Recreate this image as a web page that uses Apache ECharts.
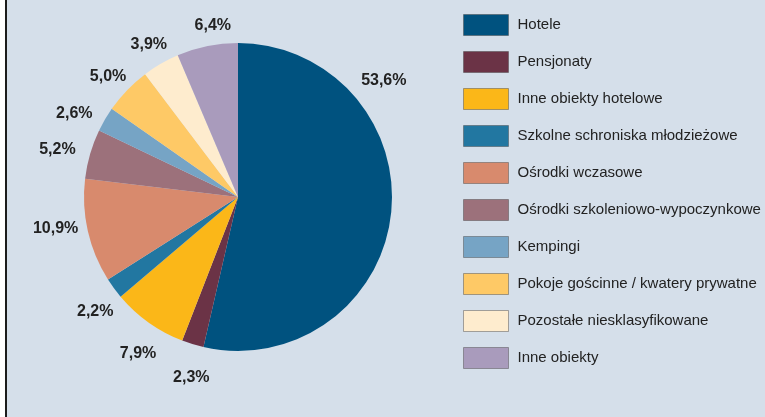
<!DOCTYPE html>
<html>
<head>
<meta charset="utf-8">
<script src="https://cdn.jsdelivr.net/npm/echarts@6/dist/echarts.min.js"></script>
<style>
  html, body { margin: 0; padding: 0; background: #ffffff; }
  #frame { position: absolute; left: 5px; top: 0; width: 2px; height: 417px; background: #1c1c1c; }
  #chart { position: absolute; left: 7px; top: 0; width: 758px; height: 417px; background: #d5dfea; }
</style>
</head>
<body>
<div id="frame"></div>
<div id="chart"></div>
<script>
// kategorie obiektów noclegowych
const categories = [
  'Hotele',
  'Pensjonaty',
  'Inne obiekty hotelowe',
  'Szkolne schroniska młodzieżowe',
  'Ośrodki wczasowe',
  'Ośrodki szkoleniowo-wypoczynkowe',
  'Kempingi',
  'Pokoje gościnne / kwatery prywatne',
  'Pozostałe niesklasyfikowane',
  'Inne obiekty'
];
// udział w %
const shares = [53.6, 2.3, 7.9, 2.2, 10.9, 5.2, 2.6, 5.0, 3.9, 6.4];
const colors = [
  '#00527f', '#6b3346', '#fbb718', '#2277a1', '#d88a6d',
  '#9c717b', '#76a4c5', '#fec966', '#feecce', '#a99bbc'
];

const pieData = categories.map((name, i) => ({
  name: name,
  value: shares[i],
  itemStyle: { color: colors[i] }
}));

// drobne przesunięcia etykiet (jak w oryginale z Excela)
const nudge = [[-39, -137], [8, 3], [8, 5], [7, 4], [-1, -10], [-2, 4], [-3, 10], [4, 9], [4, 9], [12, 11]];

const chart = echarts.init(document.getElementById('chart'));

const option = {
  animation: false,
  legend: {
    orient: 'vertical',
    left: 451,
    top: 9,
    itemWidth: 45,
    itemHeight: 21,
    itemGap: 15,
    icon: 'rect',
    itemStyle: { borderColor: 'rgba(70,70,70,0.45)', borderWidth: 1 },
    textStyle: {
      fontFamily: 'Liberation Sans, Arial, sans-serif',
      fontSize: 15,
      color: '#222',
      padding: [0, 0, 0, 4]
    },
    data: categories
  },
  series: [
    {
      type: 'pie',
      center: [231, 197],
      radius: 154,
      startAngle: 90,
      clockwise: true,
      label: { show: false },
      labelLine: { show: false },
      itemStyle: { borderWidth: 0 },
      emphasis: { disabled: true },
      data: pieData
    },
    {
      // pierścień pomocniczy tylko dla etykiet
      type: 'pie',
      center: [231, 197],
      radius: [154, 212],
      startAngle: 90,
      clockwise: true,
      silent: true,
      itemStyle: { color: 'rgba(0,0,0,0)' },
      label: {
        show: true,
        position: 'inside',
        fontFamily: 'Liberation Sans, Arial, sans-serif',
        fontWeight: 'bold',
        fontSize: 16,
        color: '#222',
        formatter: p => p.value.toFixed(1).replace('.', ',') + '%'
      },
      labelLine: { show: false },
      labelLayout: p => ({ dx: nudge[p.dataIndex][0], dy: nudge[p.dataIndex][1] }),
      emphasis: { disabled: true },
      data: categories.map((name, i) => ({ name: name, value: shares[i] }))
    }
  ]
};

chart.setOption(option);
window.addEventListener('resize', () => chart.resize());
</script>
</body>
</html>
